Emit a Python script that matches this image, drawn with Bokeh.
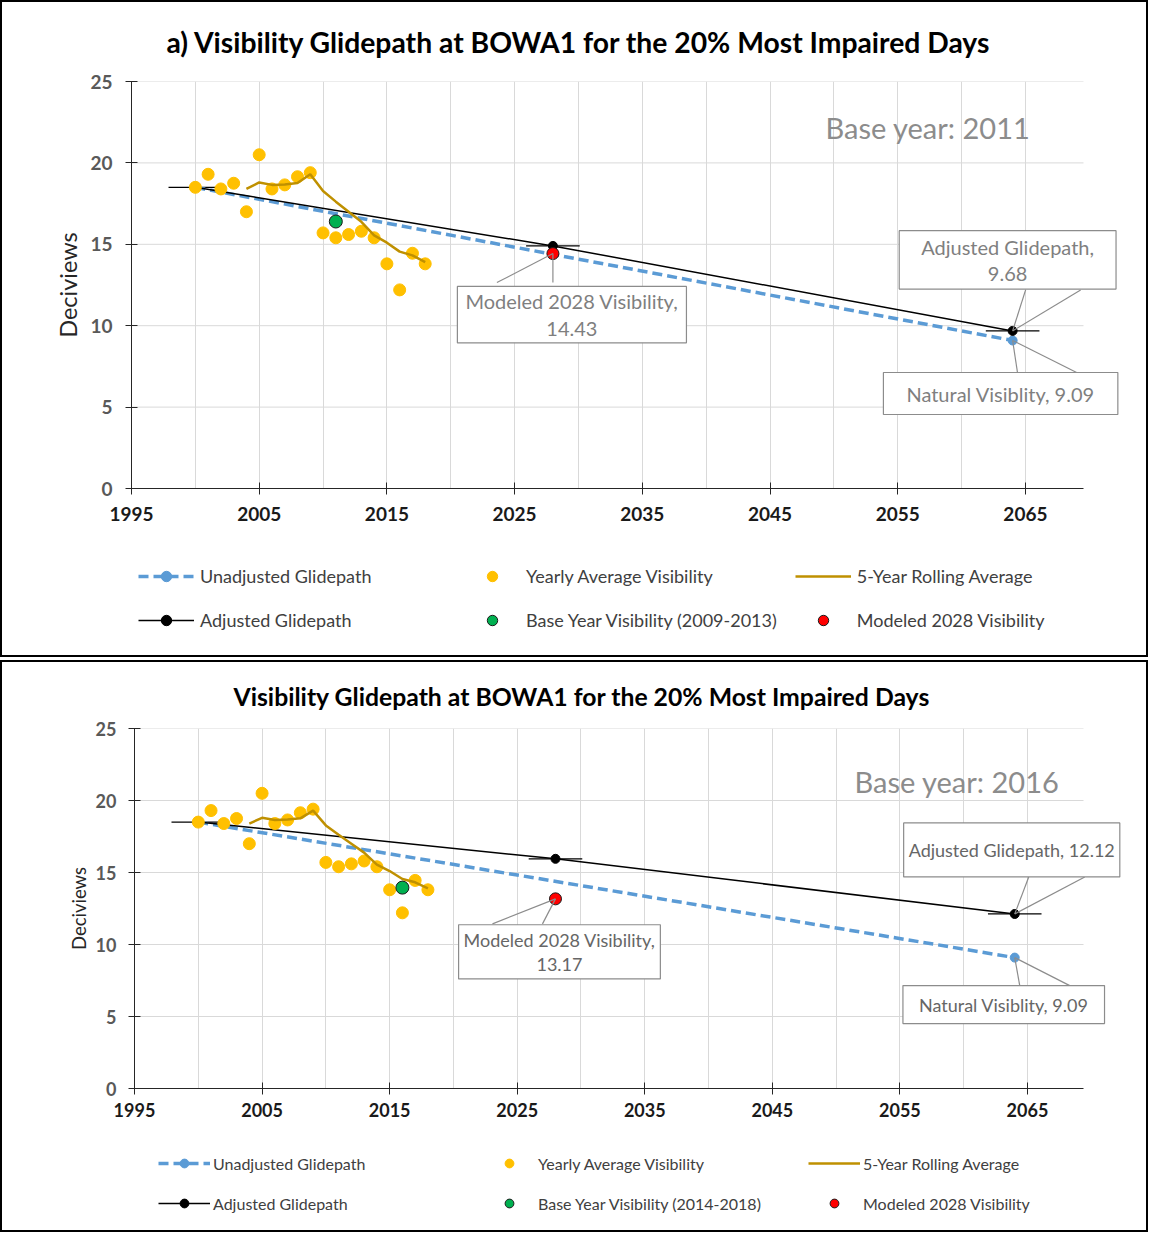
from bokeh.plotting import figure
from bokeh.models import Range1d, FixedTicker, Legend, LegendItem, Label, Title
from bokeh.layouts import column
from bokeh.embed import file_html
from bokeh.resources import INLINE

FONT = "Lato"

# ---------------- data ----------------
years = list(range(2000, 2019))
yearly_avg = [18.5, 19.3, 18.4, 18.75, 17.0, 20.5, 18.4, 18.65, 19.15, 19.4,
              15.7, 15.4, 15.6, 15.8, 15.4, 13.8, 12.2, 14.45, 13.8]
rolling_years = list(range(2004, 2019))
rolling_avg = [18.4, 18.8, 18.65, 18.68, 18.76, 19.3, 18.27, 17.62, 17.0, 16.38,
               15.55, 15.1, 14.55, 14.32, 13.9]
unadj_years = [2000, 2064]
unadj_values = [18.5, 9.09]
adj_years = [2000, 2028, 2064]
adj_values_a = [18.5, 14.9, 9.68]
adj_values_b = [18.5, 15.95, 12.12]
base_year_a, base_value_a = [2011], [16.4]
base_year_b, base_value_b = [2016], [13.95]
model_year = [2028]
model_value_a = [14.43]
model_value_b = [13.17]
x_ticks = [1995, 2005, 2015, 2025, 2035, 2045, 2055, 2065]
x_grid_minor = [2000, 2010, 2020, 2030, 2040, 2050, 2060]
y_ticks = [0, 5, 10, 15, 20, 25]
y_grid = [5, 10, 15, 20, 25]

BLUE = "#5B9BD5"
YELLOW = "#FFC000"
GOLD = "#BF9000"
GREEN = "#00B050"
RED = "#FF0000"
GRID = "#D9D9D9"
AXIS = "#262626"
ERR_HALF = 2.1  # half-width of horizontal error bars (years)

STY = dict(
    unadj_line=dict(line_color=BLUE, line_width=3.5, line_dash="10 5"),
    unadj_pt=dict(size=9, fill_color=BLUE, line_color=BLUE),
    yearly=dict(size=12, fill_color=YELLOW, line_color=YELLOW),
    rolling=dict(line_color=GOLD, line_width=2.5),
    base=dict(size=13, fill_color=GREEN, line_color="#1a1a1a", line_width=1),
    model=dict(size=12, fill_color=RED, line_color="#1a1a1a", line_width=1),
    adj_line=dict(line_color="black", line_width=1.5),
    adj_pt=dict(size=9, fill_color="black", line_color="black"),
)


def draw_series(fig, adj_values, base_year, base_value, model_value):
    r = {}
    r["ul"] = fig.line(unadj_years, unadj_values, **STY["unadj_line"])
    r["up"] = fig.scatter(unadj_years, unadj_values, **STY["unadj_pt"])
    r["al"] = fig.line(adj_years, adj_values, **STY["adj_line"])
    r["ap"] = fig.scatter(adj_years, adj_values, **STY["adj_pt"])
    r["y"] = fig.scatter(years, yearly_avg, **STY["yearly"])
    r["roll"] = fig.line(rolling_years, rolling_avg, **STY["rolling"])
    r["base"] = fig.scatter(base_year, base_value, **STY["base"])
    r["mod"] = fig.scatter(model_year, model_value, **STY["model"])
    return r


def make_panel(cfg, adj_values, base_year, base_value, model_value):
    fw, fh = cfg["fw"], cfg["fh"]
    sx = cfg["sx"]
    sy = fh / 25.0
    axis_end = 1995 + cfg["axis_px"] / sx
    xend = 1995 + fw / sx
    p = figure(frame_width=fw, frame_height=fh,
               x_range=Range1d(1995, xend), y_range=Range1d(0, 25),
               output_backend="svg", toolbar_location=None,
               min_border_left=cfg["bl"], min_border_right=cfg["br"],
               min_border_top=cfg["bt"], min_border_bottom=cfg["bb"],
               background_fill_color="white", border_fill_color="white",
               outline_line_color=None)

    p.title = Title(text=cfg["title"], align="left", offset=cfg["title_off"],
                    standoff=cfg["title_stand"], vertical_align="middle",
                    text_font=FONT, text_font_style="bold",
                    text_font_size=cfg["title_fs"], text_color="black")

    # axes
    p.xaxis.ticker = FixedTicker(ticks=x_ticks, minor_ticks=x_grid_minor)
    p.xaxis.bounds = (1995, axis_end)
    p.yaxis.ticker = FixedTicker(ticks=y_ticks)
    for ax in (p.xaxis[0], p.yaxis[0]):
        ax.axis_line_color = AXIS
        ax.major_tick_line_color = AXIS
        ax.major_tick_in = 6
        ax.major_tick_out = 6
        ax.minor_tick_line_color = None
        ax.major_label_text_font = FONT
        ax.major_label_text_font_style = "bold"
        ax.major_label_text_font_size = cfg["tick_fs"]
    p.xaxis.major_label_text_color = "#1a1a1a"
    p.yaxis.major_label_text_color = "#595959"
    p.xaxis.major_label_standoff = cfg["xstand"]
    p.yaxis.major_label_standoff = cfg["ystand"]
    p.yaxis.axis_label = "Deciviews"
    p.yaxis.axis_label_text_font = FONT
    p.yaxis.axis_label_text_font_style = "normal"
    p.yaxis.axis_label_text_font_size = cfg["ylab_fs"]
    p.yaxis.axis_label_text_color = "#262626"
    p.yaxis.axis_label_standoff = cfg["ylab_stand"]

    p.xgrid.grid_line_color = GRID
    p.xgrid.minor_grid_line_color = GRID
    p.ygrid.grid_line_color = None
    p.segment(x0=[1995] * len(y_grid), x1=[axis_end] * len(y_grid),
              y0=y_grid, y1=y_grid, line_color=GRID, line_width=1,
              level="underlay")

    # series (error bars first so markers sit on top)
    p.segment(x0=[x - ERR_HALF for x in adj_years], y0=adj_values,
              x1=[x + ERR_HALF for x in adj_years], y1=adj_values,
              line_color="black", line_width=1.2)
    draw_series(p, adj_values, base_year, base_value, model_value)

    # callouts (anchored to data points; offsets in pixels)
    callouts = [
        (model_year[0], model_value[0],
         "Modeled 2028 Visibility,\n%.2f" % model_value[0], cfg["c_mod"]),
        (adj_years[-1], adj_values[-1],
         cfg["adj_fmt"] % adj_values[-1], cfg["c_adj"]),
        (unadj_years[-1], unadj_values[-1],
         "Natural Visiblity, %.2f" % unadj_values[-1], cfg["c_nat"]),
    ]
    for xv, yv, txt, c in callouts:
        dx, dy, lead, pad = c
        for (lx, ly) in lead:
            p.segment(x0=[xv], y0=[yv], x1=[xv + lx / sx], y1=[yv - ly / sy],
                      line_color="#8C8C8C", line_width=1.2)
        p.add_layout(Label(x=xv, y=yv, x_offset=dx, y_offset=-dy, text=txt,
                           text_align="center", text_baseline="middle",
                           text_font=FONT, text_font_size=cfg["call_fs"],
                           text_color=cfg["call_color"],
                           text_line_height=cfg["call_lh"],
                           background_fill_color="white",
                           border_line_color="#8C8C8C", border_line_width=1.2,
                           padding=dict(left=pad[0], right=pad[0],
                                        top=pad[1], bottom=pad[1])))

    p.add_layout(Label(x=cfg["base_x"], y=cfg["base_y"], x_units="screen",
                       y_units="screen", text=cfg["base_text"],
                       text_align="right", text_baseline="middle",
                       text_font=FONT, text_font_size="29px",
                       text_color="#8C8C8C"))

    # legend strip: its own canvas; the series are drawn there too but lie
    # outside its (0..1) ranges, so only the legend keys show.
    q = figure(width=cfg["W"], height=cfg["leg_h"], min_border=0,
               x_axis_type=None, y_axis_type=None, toolbar_location=None,
               output_backend="svg", outline_line_color=None,
               x_range=Range1d(0, 1), y_range=Range1d(0, 1),
               background_fill_color="white", border_fill_color="white")
    q.xgrid.visible = False
    q.ygrid.visible = False
    k = draw_series(q, adj_values, base_year, base_value, model_value)
    legend = Legend(items=[
        LegendItem(label="Unadjusted Glidepath", renderers=[k["ul"], k["up"]]),
        LegendItem(label="Yearly Average Visibility", renderers=[k["y"]]),
        LegendItem(label="5-Year Rolling Average", renderers=[k["roll"]]),
        LegendItem(label="Adjusted Glidepath", renderers=[k["al"], k["ap"]]),
        LegendItem(label=cfg["base_legend"], renderers=[k["base"]]),
        LegendItem(label="Modeled 2028 Visibility", renderers=[k["mod"]]),
    ], location=(cfg["leg_x"], cfg["leg_y"]), orientation="horizontal",
        ncols=3, glyph_width=cfg["gw"], glyph_height=cfg["gh"],
        label_width=cfg["lw"], label_standoff=cfg["ls"],
        spacing=cfg["sp"], padding=0, margin=0,
        border_line_color=None, background_fill_alpha=0,
        label_text_font=FONT, label_text_font_size=cfg["leg_fs"],
        label_text_color="#404040")
    q.add_layout(legend)

    return column(p, q, spacing=0, styles={"border": "2px solid #000000"})


cfg_a = dict(W=1144, fw=1009, fh=407, sx=12.77, axis_px=952, bl=129, br=6,
             bt=79, bb=52, tick_fs="19px", xstand=12, ystand=13,
             ylab_fs="23.5px", ylab_stand=5,
             c_mod=(19, 61, [(-56, 29), (0, 29)], (8, 3)),
             c_adj=(-5, -71, [(13, -41), (68, -41)], (22, 4)),
             c_nat=(-12, 53, [(5, 33), (66, 33)], (23, 9)),
             adj_fmt="Adjusted Glidepath,\n%.2f",
             call_fs="20px", call_color="#7F7F7F", call_lh=1.1,
             title="a) Visibility Glidepath at BOWA1 for the 20% Most Impaired Days",
             title_off=35, title_stand=43, title_fs="28.3px",
             base_x=899, base_y=361, base_text="Base year: 2011",
             base_legend="Base Year Visibility (2009-2013)",
             leg_h=115, leg_x=7, leg_y=22, gw=56, gh=26, lw=246, ls=6,
             sp=18, leg_fs="18px")

cfg_b = dict(W=1144, fw=1006, fh=360, sx=12.757, axis_px=949, bl=132, br=6,
             bt=66, bb=47, tick_fs="18px", xstand=8, ystand=12,
             ylab_fs="18.5px", ylab_stand=3,
             c_mod=(4, 53, [(-63, 25), (-13, 25)], (5, 4)),
             c_adj=(-3, -64, [(14, -37), (70, -37)], (5, 16)),
             c_nat=(-11, 47, [(5, 28), (55, 28)], (16, 8)),
             adj_fmt="Adjusted Glidepath, %.2f",
             call_fs="18px", call_color="#666666", call_lh=1.1,
             title="Visibility Glidepath at BOWA1 for the 20% Most Impaired Days",
             title_off=99, title_stand=34, title_fs="24.75px",
             base_x=925, base_y=307, base_text="Base year: 2016",
             base_legend="Base Year Visibility (2014-2018)",
             leg_h=95, leg_x=24, leg_y=16, gw=52, gh=22, lw=252, ls=3,
             sp=18, leg_fs="16px")

p1 = make_panel(cfg_a, adj_values_a, base_year_a, base_value_a, model_value_a)
p2 = make_panel(cfg_b, adj_values_b, base_year_b, base_value_b, model_value_b)

layout = column(p1, p2, spacing=3)
open("out.html", "w").write(file_html(layout, INLINE))
